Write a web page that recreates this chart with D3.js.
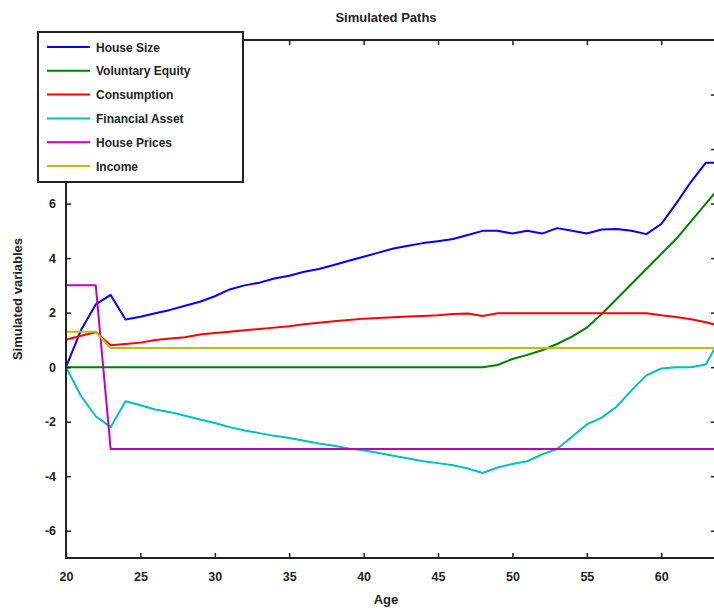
<!DOCTYPE html>
<html>
<head>
<meta charset="utf-8">
<script src="https://cdn.jsdelivr.net/npm/d3@7/dist/d3.min.js"></script>
<style>
  html, body { margin: 0; padding: 0; background: #fff; }
  svg { display: block; }
  text { font-family: "Liberation Sans", Arial, sans-serif; font-weight: bold; fill: #222; }
</style>
</head>
<body>
<svg id="chart" width="714" height="611"></svg>
<script>
// Simulated life-cycle paths, one value per year of age
const ages = d3.range(20, 65);

const houseSize = [0, 1.35, 2.3, 2.65, 1.75, 1.85, 1.98, 2.1, 2.25, 2.4,
  2.6, 2.85, 3.0, 3.1, 3.25, 3.35, 3.5, 3.6, 3.75, 3.9,
  4.05, 4.2, 4.35, 4.45, 4.55, 4.62, 4.7, 4.85, 5.0, 5.0,
  4.9, 5.0, 4.9, 5.1, 5.0, 4.9, 5.05, 5.07, 5.0, 4.88,
  5.25, 6.0, 6.8, 7.5, 7.5];

const voluntaryEquity = [0, 0, 0, 0, 0, 0, 0, 0, 0, 0,
  0, 0, 0, 0, 0, 0, 0, 0, 0, 0,
  0, 0, 0, 0, 0, 0, 0, 0, 0, 0.08,
  0.3, 0.45, 0.62, 0.85, 1.12, 1.45, 1.95, 2.5, 3.05, 3.6,
  4.15, 4.7, 5.35, 6.0, 6.65];

const consumption = [1.0, 1.15, 1.28, 0.8, 0.85, 0.9, 1.0, 1.05, 1.1, 1.2,
  1.25, 1.3, 1.35, 1.4, 1.45, 1.5, 1.57, 1.63, 1.68, 1.73,
  1.78, 1.8, 1.83, 1.86, 1.88, 1.9, 1.95, 1.97, 1.88, 1.98,
  1.98, 1.98, 1.98, 1.98, 1.98, 1.98, 1.98, 1.98, 1.98, 1.98,
  1.9, 1.84, 1.76, 1.65, 1.5];

const financialAsset = [0, -1.05, -1.8, -2.2, -1.25, -1.4, -1.55, -1.65, -1.78, -1.92,
  -2.05, -2.2, -2.32, -2.42, -2.52, -2.6, -2.7, -2.8, -2.88, -2.98,
  -3.05, -3.15, -3.25, -3.35, -3.45, -3.52, -3.6, -3.72, -3.88, -3.68,
  -3.55, -3.45, -3.2, -3.0, -2.55, -2.1, -1.85, -1.45, -0.85, -0.3,
  -0.05, 0.0, 0.0, 0.1, 1.1];

const housePrices = [3, 3, 3, -3, -3, -3, -3, -3, -3, -3,
  -3, -3, -3, -3, -3, -3, -3, -3, -3, -3,
  -3, -3, -3, -3, -3, -3, -3, -3, -3, -3,
  -3, -3, -3, -3, -3, -3, -3, -3, -3, -3,
  -3, -3, -3, -3, -3];

const income = [1.3, 1.3, 1.3, 0.7, 0.7, 0.7, 0.7, 0.7, 0.7, 0.7,
  0.7, 0.7, 0.7, 0.7, 0.7, 0.7, 0.7, 0.7, 0.7, 0.7,
  0.7, 0.7, 0.7, 0.7, 0.7, 0.7, 0.7, 0.7, 0.7, 0.7,
  0.7, 0.7, 0.7, 0.7, 0.7, 0.7, 0.7, 0.7, 0.7, 0.7,
  0.7, 0.7, 0.7, 0.7, 0.7];

const seriesNames = ["House Size", "Voluntary Equity", "Consumption", "Financial Asset", "House Prices", "Income"];
const seriesValues = [houseSize, voluntaryEquity, consumption, financialAsset, housePrices, income];
const seriesColors = ["#0000ff", "#008000", "#ff0000", "#00bfbf", "#bf00bf", "#bfbf00"];

const xTicks = [20, 25, 30, 35, 40, 45, 50, 55, 60];
const yTicks = [-6, -4, -2, 0, 2, 4, 6, 8, 10];

const svg = d3.select("#chart");
const plotL = 66, plotR = 716, plotT = 40, plotB = 558;

const x = d3.scaleLinear().domain([20, 63.68]).range([plotL, plotR]);
const y = d3.scaleLinear().domain([-7, 12]).range([plotB, plotT]);

svg.append("defs").append("clipPath").attr("id", "plot-clip")
  .append("rect").attr("x", plotL).attr("y", plotT)
  .attr("width", plotR - plotL).attr("height", plotB - plotT);

// Data lines
const line = d3.line().x((d, i) => x(ages[i])).y(d => y(d));
const lines = svg.append("g").attr("clip-path", "url(#plot-clip)");
seriesValues.forEach((vals, k) => {
  lines.append("path")
    .attr("d", line(vals))
    .attr("fill", "none")
    .attr("stroke", seriesColors[k])
    .attr("stroke-width", 2)
    .attr("stroke-linejoin", "round");
});

// Axes box with inward ticks on all four sides; plain hyphen for negatives
const plainNum = d => String(d);
function styleAxis(g) {
  g.select(".domain").remove();
  g.selectAll(".tick line").attr("stroke", "#222").attr("stroke-width", 1.5);
  g.selectAll(".tick text").attr("font-size", 12.5).attr("fill", "#222")
    .attr("font-family", "'Liberation Sans', Arial, sans-serif").attr("font-weight", "bold");
}
svg.append("g").attr("transform", `translate(0,${plotB})`)
  .call(d3.axisBottom(x).tickValues(xTicks).tickFormat(plainNum).tickSizeInner(-5).tickSizeOuter(0).tickPadding(14))
  .call(styleAxis);
svg.append("g").attr("transform", `translate(0,${plotT})`)
  .call(d3.axisTop(x).tickValues(xTicks).tickSizeInner(-5).tickSizeOuter(0).tickFormat(""))
  .call(styleAxis);
svg.append("g").attr("transform", `translate(${plotL},0)`)
  .call(d3.axisLeft(y).tickValues(yTicks).tickFormat(plainNum).tickSizeInner(-5).tickSizeOuter(0).tickPadding(10))
  .call(styleAxis);
svg.append("g").attr("transform", `translate(${plotR},0)`)
  .call(d3.axisRight(y).tickValues(yTicks).tickSizeInner(-5).tickSizeOuter(0).tickFormat(""))
  .call(styleAxis);

svg.append("rect").attr("x", plotL).attr("y", plotT)
  .attr("width", plotR - plotL).attr("height", plotB - plotT)
  .attr("fill", "none").attr("stroke", "#222").attr("stroke-width", 2);

// Titles
svg.append("text").attr("x", 386).attr("y", 22).attr("text-anchor", "middle")
  .attr("font-size", 13).text("Simulated Paths");
svg.append("text").attr("x", 386).attr("y", 604).attr("text-anchor", "middle")
  .attr("font-size", 13).text("Age");
svg.append("text").attr("transform", "translate(22,299) rotate(-90)")
  .attr("text-anchor", "middle").attr("font-size", 13).text("Simulated variables");

// Legend
const legend = svg.append("g");
legend.append("rect").attr("x", 38).attr("y", 32).attr("width", 205).attr("height", 150)
  .attr("fill", "#fff").attr("stroke", "#222").attr("stroke-width", 2);
seriesNames.forEach((name, k) => {
  const ly = 47 + k * 23.8;
  legend.append("line").attr("x1", 47).attr("x2", 90).attr("y1", ly).attr("y2", ly)
    .attr("stroke", seriesColors[k]).attr("stroke-width", 2);
  legend.append("text").attr("x", 96).attr("y", ly + 4.5).attr("font-size", 12).text(name);
});
</script>
</body>
</html>
